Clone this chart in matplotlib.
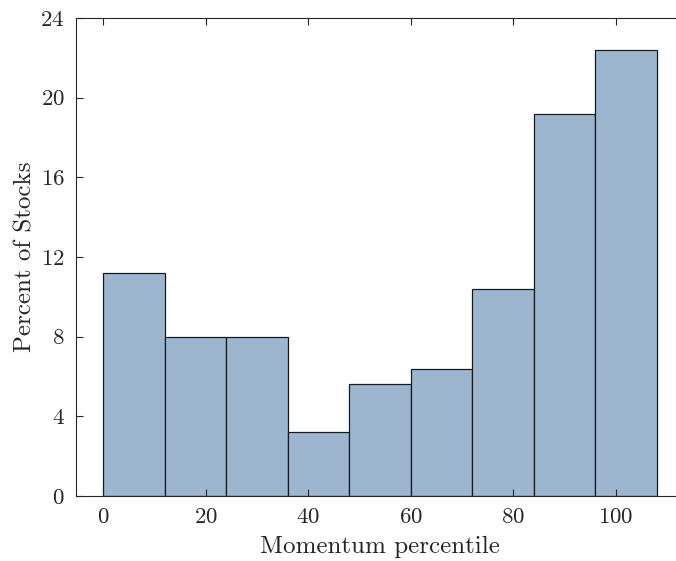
import matplotlib
matplotlib.use("Agg")
import matplotlib.pyplot as plt
import numpy as np

plt.rcParams['font.family'] = 'serif'
plt.rcParams['font.serif'] = ['cmr10']
plt.rcParams['axes.formatter.use_mathtext'] = True
plt.rcParams['mathtext.fontset'] = 'cm'

bin_edges = [0, 12, 24, 36, 48, 60, 72, 84, 96, 108]
percent = [11.2, 8.0, 8.0, 3.2, 5.6, 6.4, 10.4, 19.2, 22.4]
xticks = [0, 20, 40, 60, 80, 100]
yticks = [0, 4, 8, 12, 16, 20, 24]

fig = plt.figure(figsize=(6.76, 5.61), dpi=100)
ax = fig.add_axes([0.112, 0.1159, 0.9007, 0.852])

ax.bar(bin_edges[:-1], percent, width=np.diff(bin_edges), align='edge',
       color='#9cb6cf', edgecolor='#1a1a1a', linewidth=0.9)

ax.set_xlim(-5.4, 113.4)
ax.set_ylim(0, 24)
ax.set_xticks(xticks)
ax.set_yticks(yticks)
ax.tick_params(direction='in', top=True, right=True, labelsize=16.5,
               length=5, width=0.8, color='#262626', labelcolor='#262626', pad=8)
for s in ax.spines.values():
    s.set_color('#262626')
    s.set_linewidth(0.8)
ax.set_xlabel('Momentum percentile', fontsize=18, color='#262626', labelpad=7)
ax.set_ylabel('Percent of Stocks', fontsize=18, color='#262626', labelpad=3)

fig.savefig('out.png', dpi=100)
